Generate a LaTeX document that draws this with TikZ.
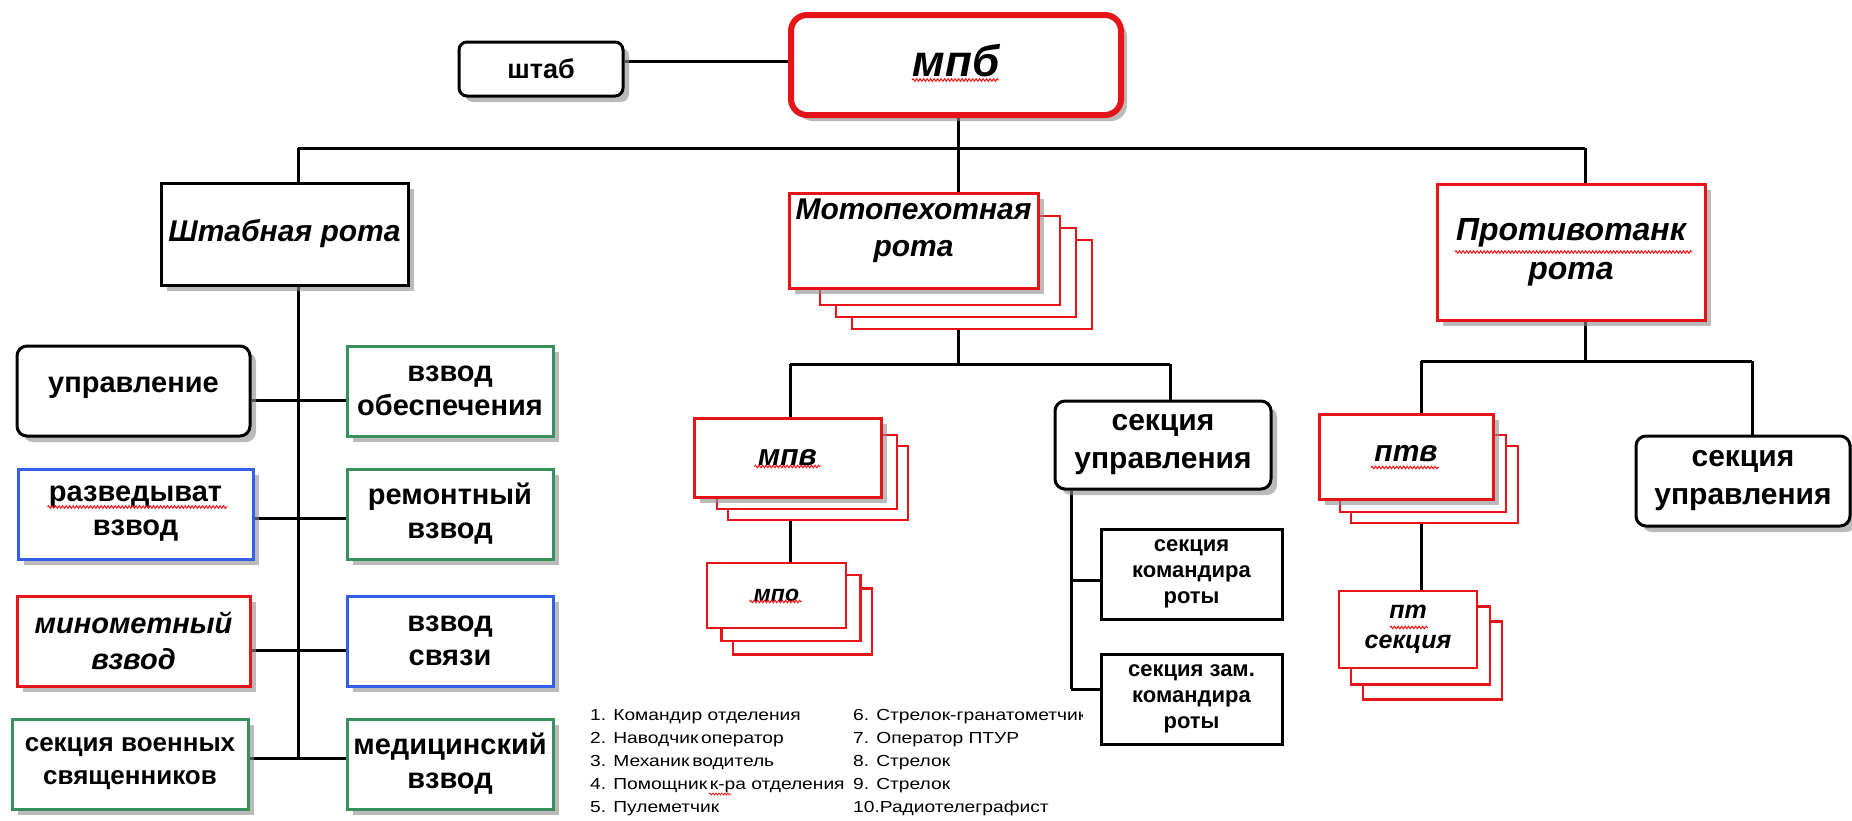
\documentclass[tikz,border=0pt]{standalone}
\usepackage{fontspec}
\setmainfont{Liberation Sans}
\newfontfamily\legendfont[FakeStretch=1.2]{Liberation Sans}
\usetikzlibrary{shadows,backgrounds,calc,decorations.pathmorphing}
\definecolor{redc}{RGB}{230,20,25}
\definecolor{greenc}{RGB}{55,145,95}
\definecolor{bluec}{RGB}{50,95,230}
\newcommand\fs[2]{\fontsize{#1}{#2}\selectfont}
\tikzset{
  box/.style={draw=black, line width=3pt, fill=white, inner sep=0pt, align=center,
    drop shadow={shadow xshift=6pt, shadow yshift=-6pt, fill=black!45, opacity=0.6}},
  flatbox/.style={draw=black, line width=3pt, fill=white, inner sep=0pt, align=center},
  rbox/.style={box, rounded corners=10pt},
  redb/.style={box, draw=redc},
  greenb/.style={box, draw=greenc},
  blueb/.style={box, draw=bluec},
  copyb/.style={draw=redc, line width=2.5pt, fill=white, inner sep=0pt},
  link/.style={draw=black, line width=3pt},
  squig/.style={draw=red, line width=0.9pt, decorate, decoration={snake, amplitude=1.3pt, segment length=3.5pt}},
  rowtxt/.style={font=\fs{29}{34}\bfseries},
  leg/.style={anchor=base west, inner sep=0pt, font=\legendfont\fs{16}{19}},
}
\begin{document}
\begin{tikzpicture}[x=1pt,y=-1pt]
\useasboundingbox (0,0) rectangle (1852,820);

% ---------- top ----------
\node[rbox, rounded corners=8pt, minimum width=164pt, minimum height=54pt, font=\fs{27}{32}\bfseries] (shtab) at (541,69) {штаб};
\node[rbox, draw=redc, line width=6pt, rounded corners=16pt, minimum width=330pt, minimum height=100pt, font=\fs{44}{50}\bfseries\itshape] (mpb) at (956,65) {\raisebox{10pt}{мпб}};

% ---------- Штабная рота ----------
\node[box, minimum width=247pt, minimum height=102pt, font=\fs{30}{36}\bfseries\itshape] (shr) at (284.5,234) {Штабная рота};

\node[rbox, minimum width=233pt, minimum height=90pt, rowtxt] (upr) at (133.5,391) {\raisebox{13pt}{управление}};
\node[greenb, minimum width=206pt, minimum height=90pt, rowtxt] (obes) at (450,391) {взвод\\обеспечения};
\node[blueb, minimum width=235pt, minimum height=90pt, rowtxt] (razv) at (135.5,514) {разведыват\\взвод};
\node[greenb, minimum width=206pt, minimum height=90pt, rowtxt] (rem) at (450,514) {ремонтный\\взвод};
\node[redb, minimum width=233pt, minimum height=90pt, font=\fs{29}{36}\bfseries\itshape] (minom) at (133.5,641) {минометный\\взвод};
\node[blueb, minimum width=206pt, minimum height=90pt, rowtxt] (svz) at (450,641) {взвод\\связи};
\node[greenb, minimum width=236pt, minimum height=90pt, font=\fs{26}{33}\bfseries] (svyash) at (130,764) {секция военных\\священников};
\node[greenb, minimum width=206pt, minimum height=90pt, rowtxt] (med) at (450,764) {медицинский\\взвод};

% ---------- Мотопехотная рота ----------
\node[copyb, minimum width=240pt, minimum height=89pt] (mpr3) at (972,284.5) {};
\node[copyb, minimum width=240pt, minimum height=89pt] (mpr2) at (956,272.5) {};
\node[copyb, minimum width=240pt, minimum height=89pt] (mpr1) at (940,260.5) {};
\node[redb, minimum width=249pt, minimum height=95pt, text depth=25pt, font=\fs{30}{37}\bfseries\itshape] (mpr) at (913.5,240.5) {Мотопехотная\\рота};

\node[copyb, minimum width=180pt, minimum height=74pt] (mpv2) at (818,483) {};
\node[copyb, minimum width=180pt, minimum height=74pt] (mpv1) at (807,472) {};
\node[redb, minimum width=187pt, minimum height=79pt, font=\fs{30}{36}\bfseries\itshape] (mpv) at (787.5,457.5) {мпв};

\node[copyb, minimum width=139pt, minimum height=66pt] (mpo2) at (802.5,621.5) {};
\node[copyb, minimum width=139pt, minimum height=66pt] (mpo1) at (791,608) {};
\node[flatbox, draw=redc, line width=2.5pt, minimum width=139pt, minimum height=65pt, font=\fs{23}{28}\bfseries\itshape] (mpo) at (776.5,595.5) {мпо};

\node[rbox, minimum width=216pt, minimum height=88pt, font=\fs{30}{38}\bfseries] (sum) at (1163,445) {секция\\управления};
\node[flatbox, minimum width=181pt, minimum height=90pt, font=\fs{22}{26}\bfseries] (skr) at (1191.5,574) {секция\\командира\\роты};
\node[flatbox, minimum width=181pt, minimum height=90pt, font=\fs{22}{26}\bfseries] (szk) at (1191.5,699) {секция зам.\\командира\\роты};

% ---------- Противотанк рота ----------
\node[redb, minimum width=268pt, minimum height=136pt, font=\fs{32}{39}\bfseries\itshape] (ptr) at (1571,252) {Противотанк\\рота};

\node[copyb, minimum width=167pt, minimum height=77pt] (ptv2) at (1434.5,484.5) {};
\node[copyb, minimum width=166pt, minimum height=77pt] (ptv1) at (1423,473.5) {};
\node[redb, minimum width=174pt, minimum height=85pt, font=\fs{30}{36}\bfseries\itshape] (ptv) at (1406,456.5) {\raisebox{7pt}{птв}};

\node[copyb, minimum width=139pt, minimum height=78pt] (pts2) at (1432.5,660.5) {};
\node[copyb, minimum width=139pt, minimum height=78pt] (pts1) at (1420.5,645.5) {};
\node[flatbox, draw=redc, line width=2.5pt, minimum width=138pt, minimum height=77pt, font=\fs{25}{30}\bfseries\itshape] (pts) at (1408,629.5) {пт\\секция};

\node[rbox, minimum width=214pt, minimum height=90pt, font=\fs{30}{38}\bfseries] (sur) at (1743,481) {секция\\управления};

% ---------- legend ----------
\node[leg] (l1) at (590,720) {1. Командир отделения};
\node[leg] (l2) at (590,743) {2. Наводчик\,оператор};
\node[leg] (l3) at (590,766) {3. Механик\,водитель};
\node[leg] (l4) at (590,789) {4. Помощник\,к-ра отделения};
\node[leg] (l5) at (590,812) {5. Пулеметчик};
\begin{scope}
  \clip (850,700) rectangle (1082,730);
  \node[leg] (l6) at (853,720) {6. Стрелок-гранатометчик};
\end{scope}
\node[leg] (l7) at (853,743) {7. Оператор ПТУР};
\node[leg] (l8) at (853,766) {8. Стрелок};
\node[leg] (l9) at (853,789) {9. Стрелок};
\node[leg] (l10) at (853,812) {10.Радиотелеграфист};

% ---------- spell-check squiggles ----------
\draw[squig] ($(mpb.center)+(-44,15)$) -- ($(mpb.center)+(43,15)$);
\draw[squig] ($(razv.center)+(-88,-7)$) -- ($(razv.center)+(92,-7)$);
\draw[squig] ($(ptr.center)+(-116,0)$) -- ($(ptr.center)+(121,0)$);
\draw[squig] ($(mpv.center)+(-33,9)$) -- ($(mpv.center)+(33,9)$);
\draw[squig] ($(mpo.center)+(-27,6)$) -- ($(mpo.center)+(25,6)$);
\draw[squig] ($(ptv.center)+(-35,11)$) -- ($(ptv.center)+(33,11)$);
\draw[squig] ($(pts.center)+(-18,-2)$) -- ($(pts.center)+(20,-2)$);
\draw[squig, line width=0.7pt, decoration={amplitude=1pt, segment length=3pt}] ($(l4.base west)+(119,5)$) -- ($(l4.base west)+(141,5)$);

% ---------- connectors ----------
\begin{pgfonlayer}{background}
  \coordinate (h0) at (700,61);
  \coordinate (b1) at (298,148);
  \coordinate (b2) at (958,148);
  \coordinate (b3) at (1585,148);
  \draw[link] (shtab.east |- h0) -- (mpb.west |- h0);
  \draw[link] (b1) -- (b3);
  \draw[link] (mpb.south -| b2) -- (mpr.north -| b2);
  \draw[link] (b1) -- (b1 |- shr.north);
  \draw[link] (b3) -- (b3 |- ptr.north);
  % left trunk
  \coordinate (t1) at (298,400);
  \coordinate (t2) at (298,518);
  \coordinate (t3) at (298,650);
  \coordinate (t4) at (298,758);
  \draw[link] (shr.south -| t1) -- (t4);
  \draw[link] (upr.east |- t1) -- (obes.west |- t1);
  \draw[link] (razv.east |- t2) -- (rem.west |- t2);
  \draw[link] (minom.east |- t3) -- (svz.west |- t3);
  \draw[link] (svyash.east |- t4) -- (med.west |- t4);
  % motorised company
  \coordinate (mx) at (958,364);
  \coordinate (m1) at (790,364);
  \coordinate (m2) at (1170,364);
  \draw[link] (mpr3.south -| mx) -- (mx);
  \draw[link] (m1) -- (m2);
  \draw[link] (m1) -- (m1 |- mpv.north);
  \draw[link] (m2) -- (m2 |- sum.north);
  \draw[link] (mpv2.south -| m1) -- (mpo.north -| m1);
  \coordinate (s1) at (1071,580);
  \coordinate (s2) at (1071,689);
  \draw[link] (sum.south -| s1) -- (s2);
  \draw[link] (s1) -- (skr.west |- s1);
  \draw[link] (s2) -- (szk.west |- s2);
  % anti-tank company
  \coordinate (p0) at (1585,361);
  \coordinate (p1) at (1421,361);
  \coordinate (p2) at (1752,361);
  \draw[link] (ptr.south -| p0) -- (p0);
  \draw[link] (p1) -- (p2);
  \draw[link] (p1) -- (p1 |- ptv.north);
  \draw[link] (p2) -- (p2 |- sur.north);
  \draw[link] (ptv2.south -| p1) -- (pts.north -| p1);
\end{pgfonlayer}
\end{tikzpicture}
\end{document}
